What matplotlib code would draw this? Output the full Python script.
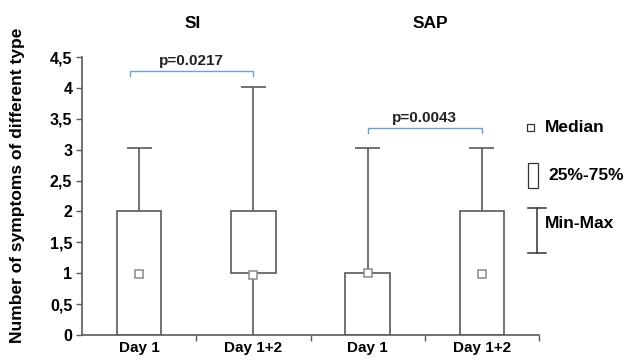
import numpy as np
import matplotlib.pyplot as plt
from matplotlib.patches import Rectangle
from matplotlib.lines import Line2D

plt.rcParams['font.family'] = ['Liberation Sans', 'DejaVu Sans']

# data
labels = ["Day 1", "Day 1+2", "Day 1", "Day 1+2"]
groups = ["SI", "SAP"]
q1 = [0, 1, 0, 0]
q3 = [2, 2, 1, 2]
medians = [0.98, 0.97, 1.0, 0.98]
mins = [0, 0, 0, 0]
maxs = [3.03, 4.02, 3.03, 3.03]
pvals = ["p=0.0217", "p=0.0043"]
p_heights = [4.27, 3.35]

line_c = "#5a5a5a"
brk_c = "#6f9fd8"

fig = plt.figure(figsize=(6.33, 3.61), dpi=100)
ax = fig.add_axes([82/633, 26/361, 457/633, 278/361])

x = np.arange(len(labels))
bw = 0.39
cw = 0.22

ax.bar(x, np.array(q3) - np.array(q1), bottom=q1, width=bw, color="white",
       edgecolor=line_c, linewidth=1.2, zorder=2)
ax.vlines(x, q3, maxs, color=line_c, linewidth=1.2, zorder=1)
ax.vlines(x, mins, q1, color=line_c, linewidth=1.2, zorder=1)
ax.hlines(maxs, x - cw/2, x + cw/2, color=line_c, linewidth=1.2)
ax.plot(x, medians, 's', ms=5.5, mfc="white", mec="#8a8a8a", mew=1.1, zorder=3)

# significance brackets
for i, (p, h) in enumerate(zip(pvals, p_heights)):
    a, b = x[2*i], x[2*i+1]
    if i == 0:
        a = a - 0.08
    ax.plot([a, a, b, b], [h-0.08, h, h, h-0.08], color=brk_c, linewidth=1.0, clip_on=False)
    ax.text((a + b)/2, h + 0.05, p, ha="center", va="bottom",
            fontsize=11, fontweight="bold", color="#222222")

ax.set_xlim(-0.5, 3.5)
ax.set_ylim(0, 4.5)
yt = np.arange(0, 4.51, 0.5)
ax.set_yticks(yt)
ax.set_yticklabels([("%g" % v).replace(".", ",") for v in yt], fontsize=11.5, fontweight="bold")
ax.set_xticks(x)
ax.set_xticklabels(labels, fontsize=11, fontweight="bold")
ax.tick_params(axis="x", length=0, pad=4)
ax.set_xticks([0.5, 1.5, 2.5, 3.5], minor=True)
ax.tick_params(axis="x", which="minor", length=4, color=line_c, width=1)
ax.tick_params(axis="y", length=4, color=line_c, width=1, pad=3)
for s in ["top", "right"]:
    ax.spines[s].set_visible(False)
for s in ["left", "bottom"]:
    ax.spines[s].set_color(line_c)
    ax.spines[s].set_linewidth(1.2)

ax.set_ylabel("Number of symptoms of different type", fontsize=12.5, fontweight="bold")
ax.yaxis.set_label_coords(-0.124, 0.54)

# group titles
fig.text(193/633, 1 - 23/361, groups[0], ha="center", va="center", fontsize=12.5, fontweight="bold")
fig.text(430/633, 1 - 23/361, groups[1], ha="center", va="center", fontsize=12.5, fontweight="bold")

# legend drawn by hand
W, H = 633, 361
fig.add_artist(Rectangle((527/W, 1 - 131/H), 7/W, 7/H, transform=fig.transFigure,
                         facecolor="white", edgecolor="#333333", linewidth=0.9))
fig.text(545/W, 1 - 127/H, "Median", fontsize=12.5, fontweight="bold", va="center")
fig.add_artist(Rectangle((528/W, 1 - 188/H), 10/W, 25/H, transform=fig.transFigure,
                         facecolor="white", edgecolor="#333333", linewidth=0.9))
fig.text(548/W, 1 - 176/H, "25%-75%", fontsize=12.5, fontweight="bold", va="center")
for xs, ys in [([537, 537], [208, 253]), ([528, 546], [208, 208]), ([528, 546], [253, 253])]:
    fig.add_artist(Line2D([v/W for v in xs], [1 - v/H for v in ys], transform=fig.transFigure,
                          color="#333333", linewidth=1.1))
fig.text(545/W, 1 - 223/H, "Min-Max", fontsize=12.5, fontweight="bold", va="center")

fig.savefig("out.png", dpi=100)
